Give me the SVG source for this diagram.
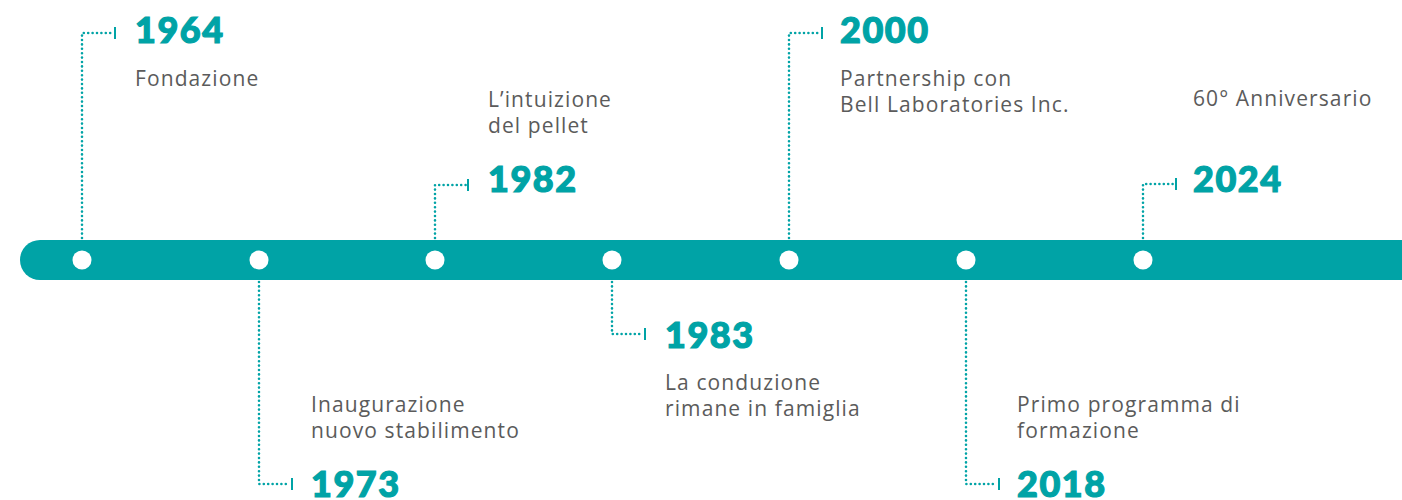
<svg xmlns="http://www.w3.org/2000/svg" width="1402" height="500" viewBox="0 0 1402 500">
<style>
.year{font-family:Lato,"Open Sans",sans-serif;font-weight:900;font-size:36px;fill:#00A3A6;stroke:#00A3A6;stroke-width:1.2px;letter-spacing:1.5px}
.desc{font-family:"Open Sans","Liberation Sans",sans-serif;font-size:21px;fill:#5b5b5b;letter-spacing:1.1px}
.dot{fill:none;stroke:#00A3A6;stroke-width:2.6;stroke-linecap:round;stroke-dasharray:0 4.4}
.tick{stroke:#00A3A6;stroke-width:2}
.pt{fill:#ffffff}
</style>
<rect x="20" y="240" width="1420" height="40" rx="20" fill="#00A3A6"/>
<g id="connectors">
<path class="dot" d="M82 238 V33 H113"/>
<line class="tick" x1="115" y1="27" x2="115" y2="39"/>
<path class="dot" d="M259 282 V484 H290"/>
<line class="tick" x1="292" y1="478" x2="292" y2="490"/>
<path class="dot" d="M435 238 V185 H466"/>
<line class="tick" x1="468" y1="179" x2="468" y2="191"/>
<path class="dot" d="M612 282 V334 H643"/>
<line class="tick" x1="645" y1="328" x2="645" y2="340"/>
<path class="dot" d="M789 238 V33 H820"/>
<line class="tick" x1="822" y1="27" x2="822" y2="39"/>
<path class="dot" d="M966 282 V484 H997"/>
<line class="tick" x1="999" y1="478" x2="999" y2="490"/>
<path class="dot" d="M1143 238 V184 H1174"/>
<line class="tick" x1="1176" y1="178" x2="1176" y2="190"/>
</g>
<g id="n1964">
<circle class="pt" cx="82" cy="260" r="9.5"/>
<text class="year" x="135" y="43">1964</text>
<text class="desc" x="135" y="86">Fondazione</text>
</g>
<g id="n1973">
<circle class="pt" cx="259" cy="260" r="9.5"/>
<text class="desc" x="311" y="412">Inaugurazione</text>
<text class="desc" x="311" y="438">nuovo stabilimento</text>
<text class="year" x="311" y="497">1973</text>
</g>
<g id="n1982">
<circle class="pt" cx="435" cy="260" r="9.5"/>
<text class="desc" x="488" y="107">L’intuizione</text>
<text class="desc" x="488" y="133">del pellet</text>
<text class="year" x="488" y="192">1982</text>
</g>
<g id="n1983">
<circle class="pt" cx="612" cy="260" r="9.5"/>
<text class="year" x="665" y="348">1983</text>
<text class="desc" x="665" y="390">La conduzione</text>
<text class="desc" x="665" y="416">rimane in famiglia</text>
</g>
<g id="n2000">
<circle class="pt" cx="789" cy="260" r="9.5"/>
<text class="year" x="840" y="43">2000</text>
<text class="desc" x="840" y="86">Partnership con</text>
<text class="desc" x="840" y="112">Bell Laboratories Inc.</text>
</g>
<g id="n2018">
<circle class="pt" cx="966" cy="260" r="9.5"/>
<text class="desc" x="1017" y="412">Primo programma di</text>
<text class="desc" x="1017" y="438">formazione</text>
<text class="year" x="1017" y="497">2018</text>
</g>
<g id="n2024">
<circle class="pt" cx="1143" cy="260" r="9.5"/>
<text class="desc" x="1193" y="106">60° Anniversario</text>
<text class="year" x="1193" y="192">2024</text>
</g>
</svg>
